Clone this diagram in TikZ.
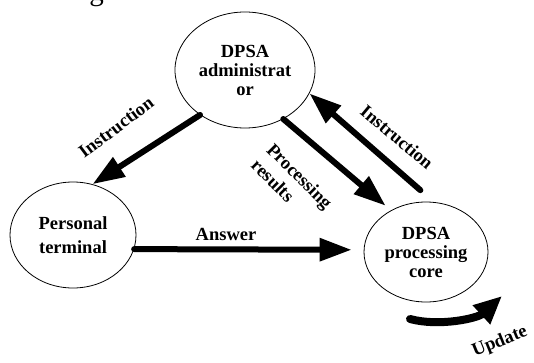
\documentclass[tikz,border=0pt]{standalone}
\usepackage{fontspec}
\setmainfont{Liberation Serif}
\usetikzlibrary{shapes.geometric, arrows.meta, positioning}

\begin{document}
\begin{tikzpicture}[x=1pt, y=-1pt,
    actor/.style={draw, ellipse, line width=0.8pt, inner sep=0pt, align=center,
      font=\bfseries\fontsize{18.5}{19}\selectfont},
    flow/.style={line width=6pt, line cap=round, -{Triangle[length=32pt, width=22pt]}},
    lbl/.style={inner sep=0pt, font=\bfseries\fontsize{18.5}{22}\selectfont}]
  \useasboundingbox (0,0) rectangle (534,363);
  % heading, cut off by the page
  \node[anchor=base, inner sep=0pt, font=\fontsize{29}{29}\selectfont] (head) at (96.5,0.5) {g};

  \node[actor, minimum width=140pt, minimum height=116pt] (admin) at (245,70) {DPSA\\administrat\\or};
  \node[actor, minimum width=126pt, minimum height=106pt,
    font=\bfseries\fontsize{18.5}{24}\selectfont] (pers) at (73,235) {Personal\\terminal};
  \node[actor, minimum width=124pt, minimum height=100pt] (core) at (426,252) {DPSA\\processing\\core};

  \draw[flow] (admin.225) -- (pers.69);
  \draw[flow, shorten >=7pt] (admin.308) -- (core.130);
  \draw[flow, shorten <=18pt] (core.81) -- (admin.340);
  \draw[flow, shorten >=12pt] (pers.347) -- (core.178);

  \coordinate (u0) at (410,319);
  \coordinate (u1) at (502,296);
  \draw[flow, line width=8pt, -{Triangle[length=28pt, width=24pt]}]
    (u0) .. controls (440,327) and (478,318) .. (u1);

  \node[lbl, rotate=37] (instrL) at (116,127) {Instruction};
  \node[lbl, rotate=-45, align=left] (procL) at (292,184) {Processing\\results};
  \node[lbl, rotate=-40] (instrR) at (397,137) {Instruction};
  \node[lbl] (ansL) at (226,234) {Answer};
  \node[lbl, rotate=22] (updL) at (500,342) {Update};
\end{tikzpicture}
\end{document}
